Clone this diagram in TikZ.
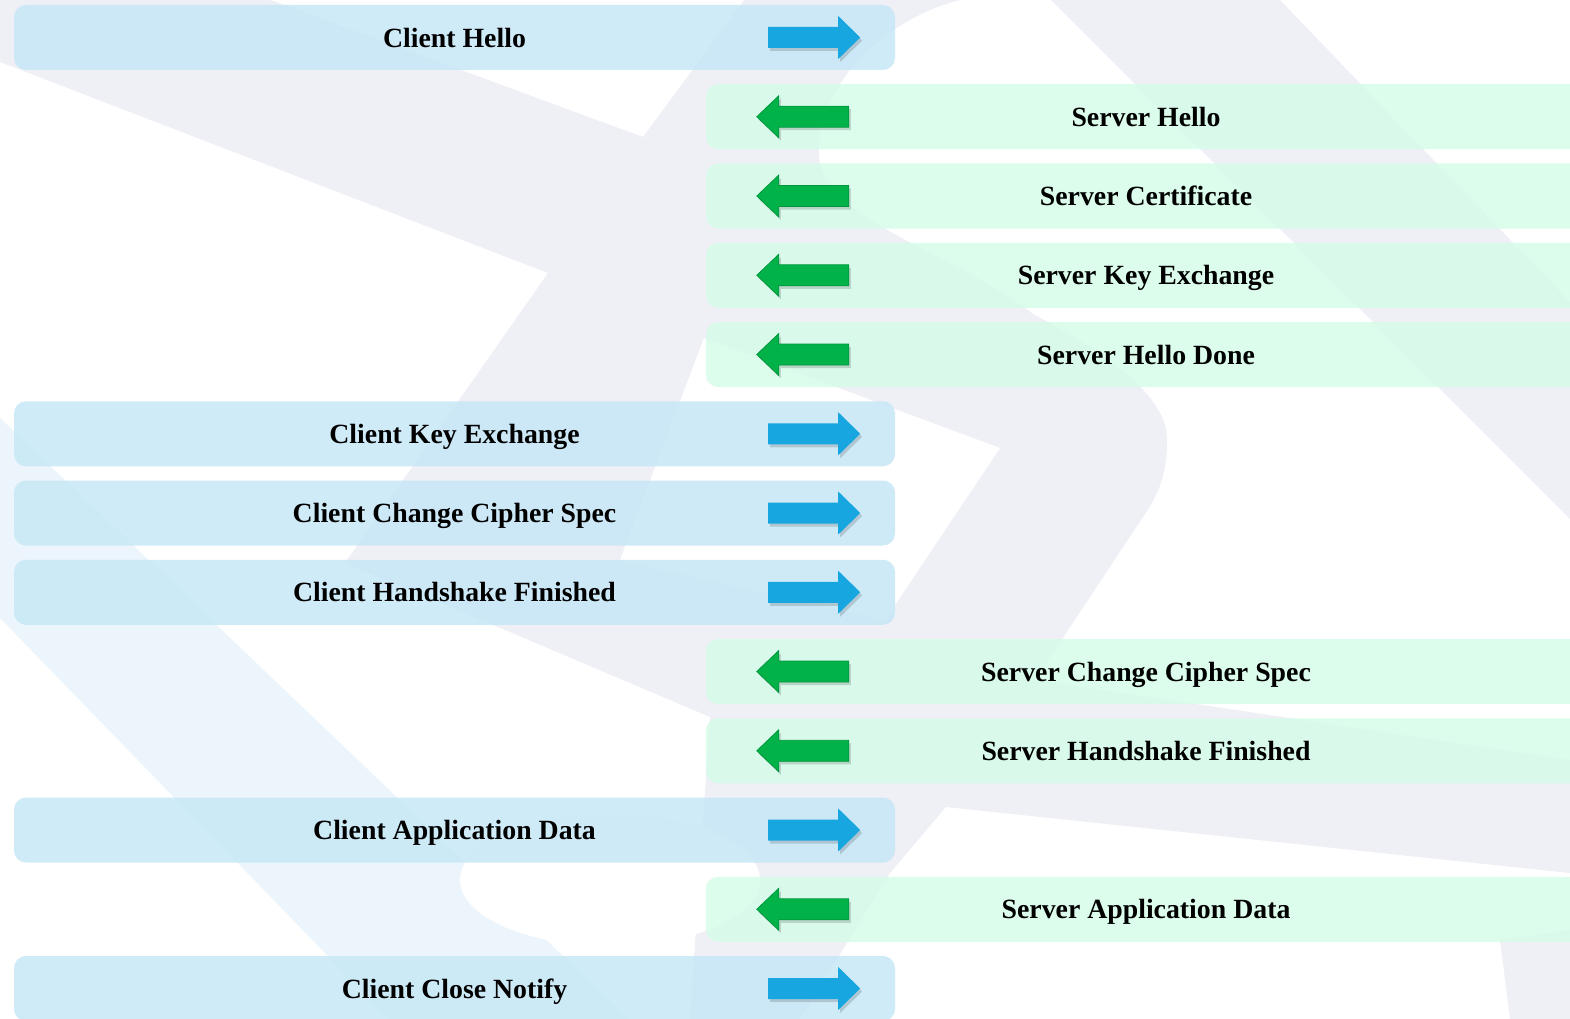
\documentclass[tikz,border=0pt]{standalone}
\usepackage{fontspec}
\setmainfont{Liberation Serif}
\usepackage{xcolor}
\usetikzlibrary{positioning,calc}

\definecolor{clientbg}{RGB}{199,231,246}
\definecolor{serverbg}{RGB}{214,253,233}
\definecolor{sendblue}{RGB}{24,166,224}
\definecolor{replygreen}{RGB}{0,178,72}
\definecolor{replyedge}{RGB}{0,150,62}
\definecolor{marklav}{RGB}{239,239,246}
\definecolor{markblue}{RGB}{235,245,251}

\begin{document}
\begin{tikzpicture}[x=1pt, y=-1pt,
  client/.style={fill=clientbg, fill opacity=.85, text opacity=1, rounded corners=12pt,
    minimum width=881pt, minimum height=65pt, inner sep=0pt, text depth=0pt,
    font=\fontsize{27.8}{32}\selectfont\bfseries},
  server/.style={client, fill=serverbg, minimum width=880pt},
  toserver/.pic={
    \fill[black, opacity=.15, xshift=2pt, yshift=-3pt]
      (0,-10.5) -- (70,-10.5) -- (70,-21.5) -- (92,0) -- (70,21.5) -- (70,10.5) -- (0,10.5) -- cycle;
    \fill[sendblue]
      (0,-10.5) -- (70,-10.5) -- (70,-21.5) -- (92,0) -- (70,21.5) -- (70,10.5) -- (0,10.5) -- cycle;
  },
  toclient/.pic={
    \fill[black, opacity=.15, xshift=2pt, yshift=-3pt]
      (0,0) -- (22,-21) -- (22,-10.5) -- (92,-10.5) -- (92,10.5) -- (22,10.5) -- (22,21) -- cycle;
    \filldraw[fill=replygreen, draw=replyedge, line width=.8pt]
      (0,0) -- (22,-21) -- (22,-10.5) -- (92,-10.5) -- (92,10.5) -- (22,10.5) -- (22,21) -- cycle;
  }
]
\useasboundingbox (0,0) rectangle (1570,1019);

% faint logo behind the messages
\begin{scope}
  \clip (0,0) rectangle (1570,1019);
  \fill[markblue] (0,418) -- (629,1019) -- (389,1019) -- (0,618) -- cycle;
  \fill[marklav]
    (0,0) -- (271,0) -- (643,137) -- (744,0) -- (960,0)
    .. controls (880,20) and (815,90) .. (819,156)
    .. controls (823,220) and (950,250) .. (1033,314)
    .. controls (1120,360) and (1167,400) .. (1167,440)
    .. controls (1167,480) and (1155,500) .. (1141,520)
    -- (1035,680) -- (1570,760) -- (1570,873) -- (946,807) -- (890,873)
    -- (800,1019) -- (690,1019) -- (710,717) -- (498,627) -- (345,563)
    -- (548,273) -- (0,62) -- cycle;
  \fill[marklav] (1051,0) -- (1280,0) -- (1570,302) -- (1570,519) -- cycle;
  \fill[marklav] (1500,940) -- (1570,930) -- (1570,1019) -- (1510,1019) -- cycle;
  \fill[white] (704,338) -- (1000,448) -- (885,620) -- (620,560) -- cycle;
  \fill[white] (610,880) ellipse (150 and 66);
\end{scope}

% messages, top to bottom
\node[client] (chello) at (454.5,37.5) {Client Hello};
\node[server] (shello) at (1146,116.75) {Server Hello};
\node[server] (scert) at (1146,196) {Server Certificate};
\node[server] (skey) at (1146,275.25) {Server Key Exchange};
\node[server] (sdone) at (1146,354.5) {Server Hello Done};
\node[client] (ckey) at (454.5,433.75) {Client Key Exchange};
\node[client] (cspec) at (454.5,513) {Client Change Cipher Spec};
\node[client] (cfin) at (454.5,592.25) {Client Handshake Finished};
\node[server] (sspec) at (1146,671.5) {Server Change Cipher Spec};
\node[server] (sfin) at (1146,750.75) {Server Handshake Finished};
\node[client] (cdata) at (454.5,830) {Client Application Data};
\node[server] (sdata) at (1146,909.25) {Server Application Data};
\node[client] (cclose) at (454.5,988.5) {Client Close Notify};

% direction marks
\foreach \m in {chello,ckey,cspec,cfin,cdata,cclose}
  \path (\m.east) ++(-127,0) pic {toserver};
\foreach \m in {shello,scert,skey,sdone,sspec,sfin,sdata}
  \path (\m.west) ++(51,0) pic {toclient};

\end{tikzpicture}
\end{document}
